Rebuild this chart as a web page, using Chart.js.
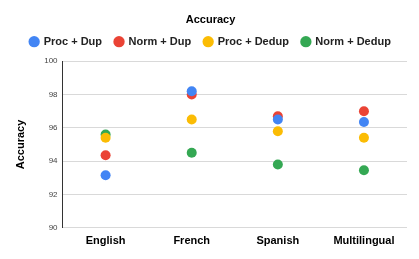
<!DOCTYPE html>
<html>
<head>
<meta charset="utf-8">
<script src="https://cdn.jsdelivr.net/npm/chart.js@4"></script>
<style>
  html, body { margin: 0; padding: 0; background: #fff; }
  #wrap { width: 419px; height: 259px; }
</style>
</head>
<body>
<div id="wrap"><canvas id="myChart" width="419" height="259"></canvas></div>
<script>
'use strict';

const categories = ['English', 'French', 'Spanish', 'Multilingual'];
const seriesNames = ['Proc + Dup', 'Norm + Dup', 'Proc + Dedup', 'Norm + Dedup'];
const procDup = [93.15, 98.2, 96.5, 96.35];
const normDup = [94.35, 98.0, 96.7, 97.0];
const procDedup = [95.4, 96.5, 95.8, 95.4];
const normDedup = [95.6, 94.5, 93.8, 93.45];
const yTicks = [90, 92, 94, 96, 98, 100];

const colors = ['#4285F4', '#EA4335', '#FBBC04', '#34A853'];
const values = [procDup, normDup, procDedup, normDedup];

const datasets = seriesNames.map(function (name, i) {
   return {
      label: name,
      data: values[i],
      backgroundColor: colors[i],
      borderColor: colors[i],
      pointRadius: 5,
      pointHoverRadius: 5,
      pointBorderWidth: 0,
      showLine: false
   };
});

// push the plot down a little below the legend
const legendGap = {
   id: 'legendGap',
   afterInit: function (chart) {
      const fit = chart.legend.fit;
      chart.legend.fit = function () {
         fit.call(this);
         this.height += 4;
      };
   }
};

Chart.defaults.font.family = 'Arial, "Liberation Sans", sans-serif';

new Chart(document.getElementById('myChart'), {
   type: 'line',
   data: { labels: categories, datasets: datasets },
   plugins: [legendGap],
   options: {
      responsive: false,
      animation: false,
      layout: { padding: { left: 14, right: 12, top: 8, bottom: 4 } },
      plugins: {
         title: {
            display: true,
            text: 'Accuracy',
            color: '#000',
            font: { size: 11, weight: 'bold' },
            padding: { top: 5, bottom: -3 }
         },
         legend: {
            labels: {
               usePointStyle: true,
               pointStyle: 'circle',
               boxWidth: 8,
               boxHeight: 8,
               color: '#222',
               font: { size: 11, weight: 'bold' },
               padding: 13
            }
         },
         tooltip: { enabled: false }
      },
      scales: {
         x: {
            offset: true,
            grid: { display: false, drawTicks: false },
            border: { display: false },
            ticks: { color: '#000', font: { size: 11, weight: 'bold' }, padding: 7 }
         },
         y: {
            min: 90,
            max: 100,
            afterBuildTicks: function (axis) {
               axis.ticks = yTicks.map(function (v) { return { value: v }; });
            },
            grid: { color: '#d9d9d9', drawTicks: false },
            border: { display: true, color: '#333', width: 1 },
            title: {
               display: true,
               text: 'Accuracy',
               color: '#000',
               font: { size: 11, weight: 'bold' },
               padding: { top: 0, bottom: 12 }
            },
            ticks: { color: '#444', font: { size: 8 }, padding: 5 }
         }
      }
   }
});
</script>
</body>
</html>
